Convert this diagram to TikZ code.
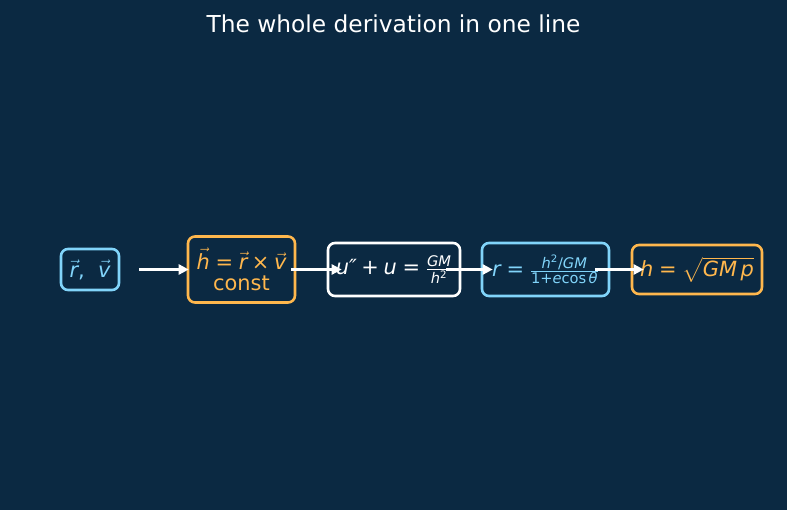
\documentclass[tikz,border=0pt]{standalone}
\usepackage{amsmath}
\usepackage{fontspec}
\setmainfont{DejaVu Sans}
\usetikzlibrary{arrows.meta}

\definecolor{bgnavy}{HTML}{0B2942}
\definecolor{skyblue}{HTML}{81D4FA}
\definecolor{amber}{HTML}{FFB74D}

% italic letters and text-font operators for the formulas
\newcommand{\mv}[1]{\text{\itshape #1}}
\newcommand{\eqop}{\mathrel{\text{=}}}
\newcommand{\plusop}{\mathbin{\text{+}}}
\newcommand{\timesop}{\mathbin{\text{×}}}
\newcommand{\sq}{\text{\textsuperscript{2}}}

\begin{document}
\begin{tikzpicture}[x=1bp, y=-1bp,
  box/.style={draw, line width=2.6bp, rounded corners=7bp, inner sep=0pt,
    align=center, font=\fontsize{21}{22}\selectfont},
  flow/.style={draw=white, line width=2.6bp, -{Triangle[length=10bp, width=10bp]}}]

  % Background
  \fill[bgnavy] (0,0) rectangle (787,510);
  \useasboundingbox (0,0) rectangle (787,510);

  % Title
  \node[white, font=\fontsize{23.4}{26}\selectfont] (title) at (393.5,24)
    {The whole derivation in one line};

  % Chain of results
  \node[box, skyblue, minimum width=58bp, minimum height=41bp] (rv) at (90,269.5)
    {$\vec{\mv{r}}\text{,}\ \ \vec{\mv{v}}$};
  \node[box, amber, minimum width=107bp, minimum height=66bp] (hvec) at (241.5,269.5)
    {$\vec{\mv{h}}\eqop\vec{\mv{r}}\timesop\vec{\mv{v}}$\\[-1bp]const};
  \node[box, white, minimum width=132bp, minimum height=53bp] (orbiteq) at (394,269.5)
    {$\mv{u″}\plusop\mv{u}\eqop\frac{\mv{GM}}{\mv{h}\sq}$};
  \node[box, skyblue, minimum width=127bp, minimum height=53bp] (conic) at (545.5,269.5)
    {$\mv{r}\eqop\frac{\mv{h}\sq\text{/}\mv{GM}}{\text{1}\plusop\mv{e}\text{cos}\,\mv{θ}}$};
  \node[box, amber, minimum width=130bp, minimum height=49bp] (hval) at (697,269.5)
    {$\mv{h}\eqop\sqrt{\mv{GM}\,\mv{p}}$};

  % Arrows between the steps
  \draw[flow, shorten <=19bp, shorten >=-2bp] (rv) -- (hvec);
  \draw[flow, shorten <=-5bp, shorten >=-15bp] (hvec) -- (orbiteq);
  \draw[flow, shorten <=-15bp, shorten >=-12bp] (orbiteq) -- (conic);
  \draw[flow, shorten <=-15bp, shorten >=-13bp] (conic) -- (hval);

\end{tikzpicture}
\end{document}
